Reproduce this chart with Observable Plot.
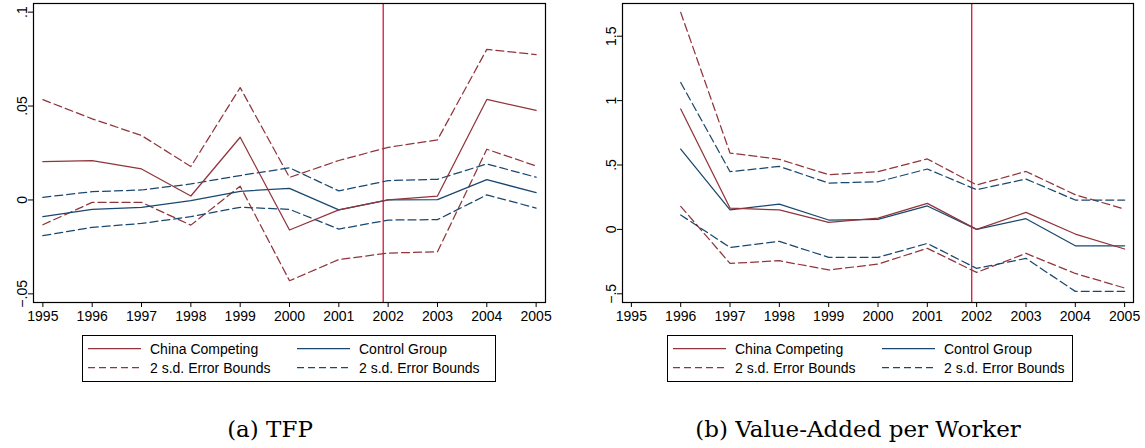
<!DOCTYPE html>
<html>
<head>
<meta charset="utf-8">
<script src="https://cdn.jsdelivr.net/npm/d3@7"></script>
<script src="https://cdn.jsdelivr.net/npm/@observablehq/plot@0.6"></script>
<style>
  body { margin: 0; background: #fff; }
  #fig { position: relative; width: 1145px; height: 448px; background: #fff; }
  .panel { position: absolute; top: 0; }
  #below { position: absolute; left: 0; top: 0; }
</style>
</head>
<body>
<div id="fig"></div>
<script>
// Years on the horizontal axis
const years = [1995, 1996, 1997, 1998, 1999, 2000, 2001, 2002, 2003, 2004, 2005];
const vaYears = [1996, 1997, 1998, 1999, 2000, 2001, 2002, 2003, 2004, 2005];
const breakYear = 2001.9;

// (a) TFP, relative to 2002
const tfpChina     = [0.0204, 0.0210, 0.0165, 0.0021, 0.0334, -0.0160, -0.0053, 0, 0.0021, 0.0535, 0.0477];
const tfpChinaHi   = [0.0534, 0.0432, 0.0343, 0.0178, 0.0598, 0.0120, 0.0210, 0.0280, 0.0320, 0.0802, 0.0774];
const tfpChinaLo   = [-0.0132, -0.0013, -0.0013, -0.0134, 0.0073, -0.0430, -0.0317, -0.0283, -0.0276, 0.0270, 0.0181];
const tfpControl   = [-0.0089, -0.0050, -0.0039, -0.0004, 0.0046, 0.0062, -0.0053, 0, 0.0002, 0.0108, 0.0039];
const tfpControlHi = [0.0014, 0.0044, 0.0053, 0.0085, 0.0130, 0.0171, 0.0048, 0.0103, 0.0110, 0.0192, 0.0121];
const tfpControlLo = [-0.0190, -0.0146, -0.0125, -0.0089, -0.0039, -0.0050, -0.0155, -0.0107, -0.0105, 0.0027, -0.0043];

// (b) Value-added per worker, relative to 2002
const vaChina     = [0.935, 0.166, 0.151, 0.054, 0.088, 0.202, 0, 0.132, -0.036, -0.152];
const vaChinaHi   = [1.685, 0.593, 0.544, 0.425, 0.448, 0.547, 0.345, 0.450, 0.269, 0.158];
const vaChinaLo   = [0.179, -0.264, -0.243, -0.315, -0.269, -0.147, -0.334, -0.186, -0.342, -0.455];
const vaControl   = [0.624, 0.151, 0.197, 0.073, 0.078, 0.182, 0, 0.083, -0.127, -0.127];
const vaControlHi = [1.141, 0.448, 0.489, 0.360, 0.370, 0.469, 0.308, 0.391, 0.228, 0.228];
const vaControlLo = [0.112, -0.140, -0.093, -0.217, -0.217, -0.109, -0.303, -0.225, -0.481, -0.481];

// Axis ticks and their labels
const tfpTicks = [-0.05, 0, 0.05, 0.1];
const tfpTickLabels = ["\u2212.05", "0", ".05", ".1"];
const vaTicks = [-0.5, 0, 0.5, 1, 1.5];
const vaTickLabels = ["\u2212.5", "0", ".5", "1", "1.5"];

// Legend and captions
const legendLabels = ["China Competing", "Control Group", "2 s.d. Error Bounds", "2 s.d. Error Bounds"];
const captions = ["(a) TFP", "(b) Value-Added per Worker"];

const RED = "#90353b";
const BLUE = "#1a476f";
const VLINE = "#dc143c";
const DASH = "8,4";
const SANS = "'Liberation Sans', Arial, Helvetica, sans-serif";

function panel({yrs, series, yDomain, xDomain, yTicks, yLabels, width, marginLeft, marginRight}) {
  const lineMarks = series.map(s =>
    Plot.line(s.values.map((v, i) => ({year: yrs[i], value: v})), {
      x: "year", y: "value", stroke: s.color, strokeWidth: 1.25,
      strokeDasharray: s.dashed ? DASH : null
    })
  );
  return Plot.plot({
    width, height: 325,
    marginTop: 3, marginBottom: 23, marginLeft, marginRight,
    x: {domain: xDomain, label: null},
    y: {domain: yDomain, label: null},
    style: {fontFamily: SANS, fontSize: "14px", color: "#000", background: "#fff"},
    marks: [
      Plot.ruleX([breakYear], {stroke: VLINE, strokeWidth: 1.3}),
      ...lineMarks,
      Plot.axisX(years, {tickSize: 5, tickPadding: 4, tickFormat: d => String(d), label: null, fontSize: 14}),
      Plot.axisY(yTicks, {tickSize: 5, tickFormat: () => "", label: null}),
      Plot.text(yTicks, {
        y: d => d, text: (d, i) => yLabels[i], frameAnchor: "left", dx: -11,
        rotate: -90, textAnchor: "middle", lineAnchor: "middle", fontSize: 14, fill: "#000"
      }),
      Plot.frame({stroke: "#000", strokeWidth: 1.2})
    ]
  });
}

const fig = document.getElementById("fig");

const pa = panel({
  yrs: years,
  series: [
    {values: tfpChinaHi, color: RED, dashed: true},
    {values: tfpChinaLo, color: RED, dashed: true},
    {values: tfpControlHi, color: BLUE, dashed: true},
    {values: tfpControlLo, color: BLUE, dashed: true},
    {values: tfpControl, color: BLUE, dashed: false},
    {values: tfpChina, color: RED, dashed: false}
  ],
  yDomain: [-0.0546, 0.1046], xDomain: [1994.81, 2005.19],
  yTicks: tfpTicks, yLabels: tfpTickLabels,
  width: 572, marginLeft: 33, marginRight: 27
});
const da = document.createElement("div");
da.className = "panel"; da.style.left = "0px";
da.appendChild(pa); fig.appendChild(da);

const pb = panel({
  yrs: vaYears,
  series: [
    {values: vaChinaHi, color: RED, dashed: true},
    {values: vaChinaLo, color: RED, dashed: true},
    {values: vaControlHi, color: BLUE, dashed: true},
    {values: vaControlLo, color: BLUE, dashed: true},
    {values: vaControl, color: BLUE, dashed: false},
    {values: vaChina, color: RED, dashed: false}
  ],
  yDomain: [-0.5675, 1.754], xDomain: [1994.82, 2005.18],
  yTicks: vaTicks, yLabels: vaTickLabels,
  width: 573, marginLeft: 50, marginRight: 12
});
const db = document.createElement("div");
db.className = "panel"; db.style.left = "572px";
db.appendChild(pb); fig.appendChild(db);

// Legends and sub-captions beneath the two panels
const svg = d3.select(fig).append("svg")
  .attr("id", "below").attr("width", 1145).attr("height", 448)
  .style("pointer-events", "none");

function legend(left, width) {
  const g = svg.append("g").attr("transform", `translate(${left},335)`);
  g.append("rect").attr("x", 0.5).attr("y", 0.5).attr("width", width - 1).attr("height", 46)
    .attr("fill", "#fff").attr("stroke", "#000").attr("stroke-width", 1);
  const entries = [
    {col: 0, row: 0, color: RED, dashed: false, label: legendLabels[0]},
    {col: 1, row: 0, color: BLUE, dashed: false, label: legendLabels[1]},
    {col: 0, row: 1, color: RED, dashed: true, label: legendLabels[2]},
    {col: 1, row: 1, color: BLUE, dashed: true, label: legendLabels[3]}
  ];
  const colX = [6, 215];
  const rowY = [13.5, 32.5];
  for (const e of entries) {
    const x0 = colX[e.col], y0 = rowY[e.row];
    g.append("line").attr("x1", x0).attr("x2", x0 + 53).attr("y1", y0).attr("y2", y0)
      .attr("stroke", e.color).attr("stroke-width", 1.25)
      .attr("stroke-dasharray", e.dashed ? "7,4" : null);
    g.append("text").attr("x", x0 + 62).attr("y", y0 + 5)
      .attr("font-family", SANS).attr("font-size", 14).attr("fill", "#000")
      .text(e.label);
  }
}
legend(82, 414);
legend(667, 406);

svg.append("text").attr("x", 270).attr("y", 437).attr("text-anchor", "middle")
  .attr("font-family", "'DejaVu Serif', serif").attr("font-size", 23).attr("fill", "#000")
  .text(captions[0]);
svg.append("text").attr("x", 858).attr("y", 437).attr("text-anchor", "middle")
  .attr("font-family", "'DejaVu Serif', serif").attr("font-size", 23).attr("fill", "#000")
  .text(captions[1]);
</script>
</body>
</html>
